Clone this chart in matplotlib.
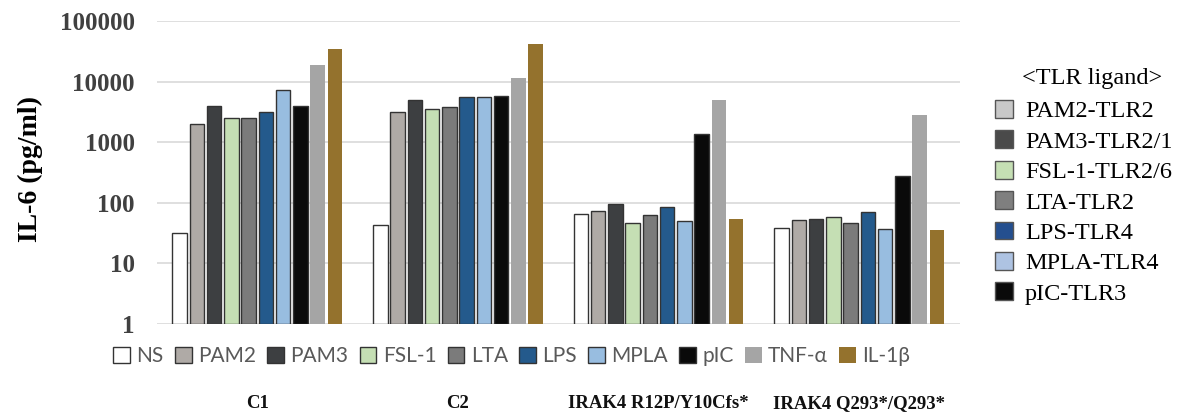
import numpy as np
import matplotlib.pyplot as plt
from matplotlib.patches import Patch

# IL-6 levels (pg/ml) per donor and stimulus
groups = ["C1", "C2", "IRAK4 R12P/Y10Cfs*", "IRAK4 Q293*/Q293*"]
stimuli = ["NS", "PAM2", "PAM3", "FSL-1", "LTA", "LPS", "MPLA", "pIC", "TNF-α", "IL-1β"]

ns    = [31, 42, 64, 38]
pam2  = [2020, 3160, 73, 51]
pam3  = [3900, 5000, 94, 53]
fsl1  = [2470, 3570, 45, 57]
lta   = [2470, 3870, 62, 45]
lps   = [3180, 5560, 83, 70]
mpla  = [7270, 5560, 49, 36]
pic   = [3900, 5870, 1350, 273]
tnfa  = [18600, 11300, 5000, 2850]
il1b  = [35000, 41300, 53, 34]
series = [ns, pam2, pam3, fsl1, lta, lps, mpla, pic, tnfa, il1b]

colors = ["#ffffff", "#afaaa6", "#3d3f41", "#c5dfb4", "#7b7b7b",
          "#245a8c", "#98bde0", "#0a0a0a", "#a5a5a5", "#94722d"]
edged = [True] * 8 + [False, False]

# ligand -> receptor key
ligands = ["PAM2-TLR2", "PAM3-TLR2/1", "FSL-1-TLR2/6", "LTA-TLR2",
           "LPS-TLR4", "MPLA-TLR4", "pIC-TLR3"]
ligand_colors = ["#c8c8c8", "#4a4a4a", "#c5dfb4", "#7f7f7f",
                 "#244f8f", "#aec3e2", "#0a0a0a"]

serif = "Liberation Serif"

fig = plt.figure(figsize=(11.82, 4.2), dpi=100)
ax = fig.add_axes([0.1328, 0.2286, 0.679, 0.7214])

x = np.arange(len(groups))
slot = 0.086
bw = 0.072
handles = []
for i, (vals, c, e) in enumerate(zip(series, colors, edged)):
    off = (i - 4.5) * slot
    b = ax.bar(x + off, vals, width=bw, bottom=1, color=c,
               edgecolor="#333333" if e else c, linewidth=1.0 if e else 0,
               zorder=3, label=stimuli[i])
    handles.append(b)

ax.set_yscale("log")
ax.set_ylim(1, 100000)
ax.set_xlim(-0.5, 3.5)
ax.set_yticks([1, 10, 100, 1000, 10000, 100000])
ax.set_yticklabels(["1", "10", "100", "1000", "10000", "100000"])
ax.yaxis.set_minor_locator(plt.NullLocator())
ax.grid(axis="y", color="#d9d9d9", linewidth=1.2, zorder=0)
for s in ax.spines.values():
    s.set_visible(False)
ax.tick_params(axis="both", length=0)
for t in ax.get_yticklabels():
    t.set_fontfamily(serif)
    t.set_fontweight("bold")
    t.set_fontsize(18)
    t.set_color("#404040")
ax.tick_params(axis="y", pad=16)

ax.set_xticks(x)
ax.set_xticklabels(groups, fontfamily=serif, fontweight="bold",
                   fontsize=13.5, color="#111111")
ax.tick_params(axis="x", pad=51)

ax.set_ylabel("IL-6 (pg/ml)", fontfamily=serif, fontweight="bold", fontsize=20)
ax.yaxis.set_label_coords(-0.142, 0.51)

# stimulus legend under the bars
leg1 = fig.legend(handles=handles, loc="center", bbox_to_anchor=(0.433, 0.152),
                  ncol=10, frameon=False, handlelength=0.8, handleheight=0.8,
                  handletextpad=0.3, columnspacing=0.55,
                  prop={"family": "Lato", "size": 15})
for t in leg1.get_texts():
    t.set_color("#595959")

# receptor key on the right
key = [Patch(facecolor=c, edgecolor="#555555", linewidth=1.0) for c in ligand_colors]
leg2 = fig.legend(handles=key, labels=ligands, loc="upper left",
                  bbox_to_anchor=(0.823, 0.814), frameon=False,
                  handlelength=0.75, handleheight=0.75,
                  handletextpad=0.5, labelspacing=0.33,
                  prop={"family": serif, "size": 17.5})
fig.text(0.8647, 0.814, "<TLR ligand>", fontfamily=serif, fontsize=17.5,
         ha="left", va="center")

fig.savefig("out.png", dpi=100)
